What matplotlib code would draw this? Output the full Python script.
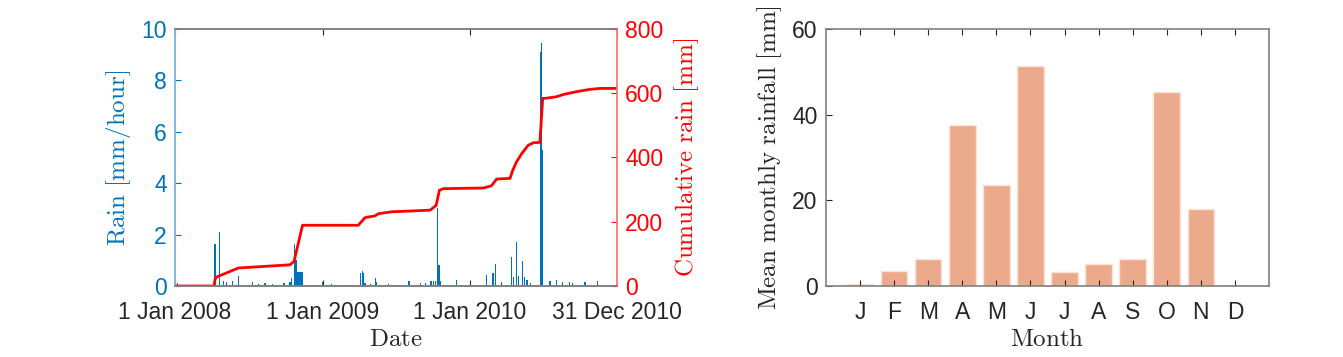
import numpy as np
import matplotlib
matplotlib.use('Agg')
import matplotlib.pyplot as plt

plt.rcParams['font.family'] = ['Liberation Sans', 'DejaVu Sans']
plt.rcParams['mathtext.fontset'] = 'cm'

# hourly rain spikes (days since 1 Jan 2008, mm/hour)
rain_day = [7, 99, 110, 120, 128, 142, 157, 192, 206, 223, 241, 258, 270, 285,
            289, 297, 300, 303, 305, 307, 309, 311, 313, 315,
            366, 388, 460, 464, 468, 471, 485, 497, 500, 528, 580, 608, 621,
            634, 640, 645, 651, 654, 657, 698,
            771, 788, 795, 808, 833, 839, 847, 851, 860, 866, 872, 880,
            906, 908, 910, 929, 946, 961, 977, 985, 1016, 1047]
rain_val = [0.1, 1.62, 2.11, 0.2, 0.15, 0.18, 0.4, 0.15, 0.09, 0.1, 0.06, 0.05, 0.1, 0.15,
            0.32, 1.62, 1.0, 0.53, 0.53, 0.53, 0.53, 0.53, 0.53, 0.53,
            0.17, 0.06, 0.49, 0.58, 0.52, 0.1, 0.07, 0.32, 0.14, 0.07, 0.21, 0.1, 0.1,
            0.2, 0.18, 0.2, 3.02, 0.8, 0.2, 0.23,
            0.43, 0.49, 0.84, 0.14, 1.14, 0.36, 1.70, 0.4, 0.97, 0.35, 0.22, 0.1,
            9.12, 9.44, 5.3, 0.18, 0.22, 0.16, 0.17, 0.1, 0.17, 0.2]

# cumulative rain (days since 1 Jan 2008, mm)
cum_day = [0, 97, 99, 103, 157, 285, 295, 316, 454, 471, 495, 504, 537, 632, 647,
           655, 665, 764, 784, 797, 830, 836, 846, 859, 875, 888, 904, 911, 916,
           945, 962, 995, 1028, 1053, 1095]
cum_val = [0, 0, 20, 28, 56, 66, 77, 189, 189, 213, 218, 225, 231, 236, 251,
           298, 303, 305, 312, 333, 335, 358, 386, 412, 438, 446, 447, 584, 584,
           589, 596, 605, 612, 615, 615]

months = ['J', 'F', 'M', 'A', 'M', 'J', 'J', 'A', 'S', 'O', 'N', 'D']
monthly_mean = [0.55, 3.5, 6.2, 37.5, 23.5, 51.4, 3.3, 5.1, 6.4, 45.3, 17.9, 0.0]

start = np.datetime64('2008-01-01')
rain_dates = start + np.array(rain_day).astype('timedelta64[D]')
cum_dates = start + np.array(cum_day).astype('timedelta64[D]')

blue = '#0072BD'
red = '#FF0000'
grey = '#262626'

fig = plt.figure(figsize=(13.43, 3.57), dpi=100)

# left: rain and cumulative rain
ax1 = fig.add_axes([0.1303, 0.1989, 0.3291, 0.7199])
ax1.bar(rain_dates, rain_val, width=3, color=blue, linewidth=0)
ax1.set_ylim(0, 10)
ax1.set_yticks([0, 2, 4, 6, 8, 10])
ax1.set_xlim(np.datetime64('2008-01-01'), np.datetime64('2010-12-31'))
xt = [np.datetime64('2008-01-01'), np.datetime64('2009-01-01'),
      np.datetime64('2010-01-01'), np.datetime64('2010-12-31')]
ax1.set_xticks(xt)
ax1.set_xticklabels(['1 Jan 2008', '1 Jan 2009', '1 Jan 2010', '31 Dec 2010'])
ax1.tick_params(axis='x', direction='in', top=True, length=4, labelsize=16.5,
                colors=grey, labelcolor=grey, pad=11)
ax1.tick_params(axis='y', direction='in', length=4, labelsize=16.5,
                colors=blue, pad=6)
ax1.set_ylabel(r'$\mathrm{Rain\ [mm/hour]}$', color=blue, fontsize=18, labelpad=6)
ax1.set_xlabel(r'$\mathrm{Date}$', color=grey, fontsize=18, labelpad=2)

ax2 = ax1.twinx()
ax2.plot(cum_dates, cum_val, color=red, lw=2)
ax2.set_ylim(0, 800)
ax2.set_yticks([0, 200, 400, 600, 800])
ax2.tick_params(axis='y', direction='in', length=4, labelsize=16.5,
                colors=red, pad=6)
ax2.set_ylabel(r'$\mathrm{Cumulative\ rain\ [mm]}$', color=red, fontsize=18, labelpad=6)

for a in (ax1, ax2):
    a.spines['top'].set_color('#808080')
    a.spines['bottom'].set_color('#808080')
    a.spines['left'].set_color('#80B9DE')
    a.spines['right'].set_color('#FF8080')
    for s in a.spines.values():
        s.set_linewidth(1.2)

# right: mean monthly rainfall
ax3 = fig.add_axes([0.6150, 0.1989, 0.3299, 0.7199])
x = np.arange(1, 13)
ax3.bar(x, monthly_mean, width=0.78, color='#ECAA8C', edgecolor='#FBE3D9', linewidth=1)
ax3.set_xlim(0, 13)
ax3.set_ylim(0, 60)
ax3.set_xticks(x)
ax3.set_xticklabels(months)
ax3.set_yticks([0, 20, 40, 60])
ax3.tick_params(axis='x', direction='in', top=True, length=4, labelsize=16.5,
                colors=grey, pad=11)
ax3.tick_params(axis='y', direction='in', length=4, labelsize=16.5,
                colors=grey, pad=6)
ax3.set_xlabel(r'$\mathrm{Month}$', color=grey, fontsize=18, labelpad=2)
ax3.set_ylabel(r'$\mathrm{Mean\ monthly\ rainfall\ [mm]}$', color=grey, fontsize=18, labelpad=6)
for s in ax3.spines.values():
    s.set_color('#808080')
    s.set_linewidth(1.2)

fig.savefig('out.png', dpi=100)
